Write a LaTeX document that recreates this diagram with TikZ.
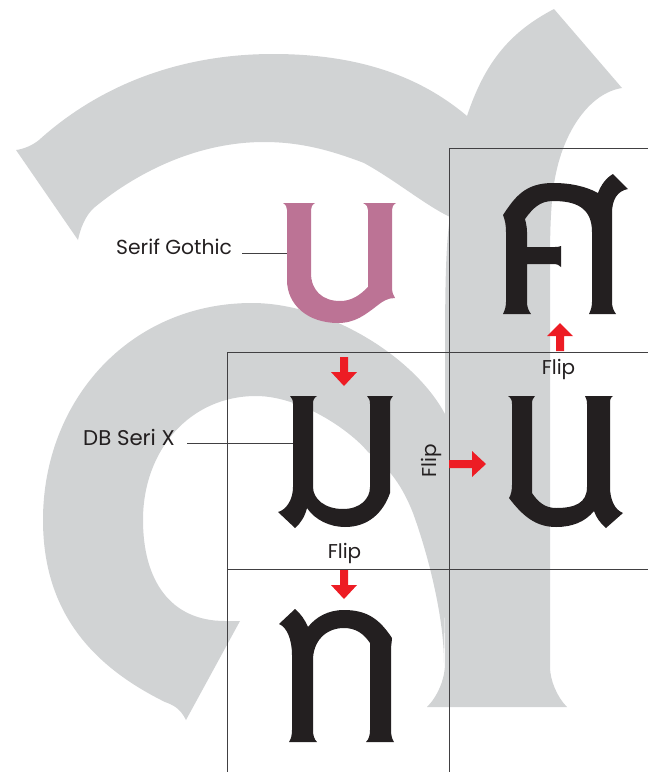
\documentclass[tikz,border=0pt]{standalone}
\usepackage{fontspec}
\setmainfont{Poppins}
\definecolor{ghost}{HTML}{D1D3D4}
\definecolor{ink}{HTML}{231F20}
\definecolor{mauve}{HTML}{BC7395}
\definecolor{flipred}{HTML}{ED1C24}
\definecolor{rule}{HTML}{414042}
\tikzset{
  grid rule/.style={draw=rule,line width=0.95pt},
  leader/.style={draw=rule,line width=0.9pt},
  ghost fill/.style={fill=ghost,draw=none},
  glyph/.style={fill=ink,draw=none},
  flip arrow/.style={fill=flipred,draw=none},
  lab/.style={text=ink,inner sep=0pt,font=\fontsize{20}{24}\selectfont}
}
\begin{document}
\begin{tikzpicture}[x=1pt,y=-1pt]
\useasboundingbox (0,0) rectangle (648,772);
% background ghost letter
\fill[ghost fill] (16,150) .. controls (24,149) and (33,145) .. (39,140)
 .. controls (100,85) and (180,54) .. (273,54)
 .. controls (350,54) and (415,72) .. (467,116)
 .. controls (485,62) and (510,32) .. (554,9) -- (622,88)
 .. controls (590,93) and (565,130) .. (556,173)
 .. controls (550,200) and (550,240) .. (550,267) -- (550,667)
 .. controls (550,680) and (557,697) .. (567,707) -- (427,707)
 .. controls (437,697) and (445,680) .. (445,663) -- (445,383)
 .. controls (445,300) and (445,250) .. (450,217)
 .. controls (425,205) and (395,180) .. (364,163)
 .. controls (330,150) and (300,142) .. (264,142)
 .. controls (200,142) and (140,170) .. (95,207)
 .. controls (85,215) and (80,230) .. (78,240) -- cycle;
\fill[ghost fill] (186,720) .. controls (180,708) and (173,705) .. (165,702)
 .. controls (90,665) and (43,610) .. (43,520)
 .. controls (43,400) and (130,303) .. (252,303)
 .. controls (330,303) and (420,360) .. (448,420) -- (444,663)
 .. controls (444,620) and (430,560) .. (413,513)
 .. controls (400,480) and (385,465) .. (368,452)
 .. controls (350,430) and (300,396) .. (256,396)
 .. controls (190,396) and (143,450) .. (143,520)
 .. controls (143,580) and (170,621) .. (225,621) -- (240,621) -- cycle;
% grid
\draw[grid rule] (648,148) -- (449,148) -- (449,772);
\draw[grid rule] (648,352) -- (227,352) -- (227,772);
\draw[grid rule] (227,569) -- (648,569);
% labels
\node[lab,anchor=west,font=\fontsize{20.3}{24}\selectfont] (sg) at (116,247) {Serif Gothic};
\node[lab,anchor=west,font=\fontsize{21.3}{24}\selectfont] (db) at (83,437.5) {DB Seri X};
\node[lab] (f1) at (558.5,369.5) {Flip};
\node[lab] (f2) at (344.5,553.5) {Flip};
\node[lab,rotate=90] (f3) at (431.5,461) {Flip};
% leaders
\coordinate (sga) at (242,253); \coordinate (sgb) at (288,253);
\coordinate (dba) at (187,443); \coordinate (dbb) at (294,443);
\draw[leader] (sga) -- (sgb);
\draw[leader] (dba) -- (dbb);
% pink U
\fill[fill=mauve] (283,203) -- (315,203) .. controls (312,205) and (311,207) .. (311,210) -- (311,273)
 .. controls (311,290) and (322,301) .. (340,301)
 .. controls (352,301) and (360,295) .. (368,287) -- (368,210)
 .. controls (368,207) and (367,205) .. (363,203) -- (396,203)
 .. controls (393,205) and (392,207) .. (392,210) -- (392,287)
 .. controls (392,292) and (393,295) .. (395,298)
 .. controls (388,298) and (383,301) .. (378,305)
 .. controls (365,315) and (355,323) .. (338,323)
 .. controls (308,323) and (287,305) .. (287,280) -- (287,210)
 .. controls (287,207) and (286,205) .. (283,203) -- cycle;
% Ko top right
\fill[glyph] (503,314) -- (531,314) .. controls (528,310) and (527,306) .. (527,302) -- (527,264)
 -- (555,264) .. controls (557,264) and (559,265) .. (561,267) -- (561,246)
 .. controls (559,247) and (557,247) .. (555,247) -- (527,247) -- (527,232)
 .. controls (527,227) and (526,223) .. (525,219)
 .. controls (533,208) and (540,201) .. (553,201)
 .. controls (575,201) and (592,207) .. (592,232) -- (592,302)
 .. controls (592,306) and (591,310) .. (589,314) -- (616,314)
 .. controls (613,310) and (612,306) .. (612,302) -- (612,213)
 .. controls (612,200) and (617,191) .. (628,189) -- (613,174)
 .. controls (606,178) and (601,185) .. (598,193)
 .. controls (585,186) and (570,183) .. (553,183)
 .. controls (525,183) and (515,197) .. (503,215)
 .. controls (505,220) and (506,225) .. (506,232) -- (506,302)
 .. controls (506,306) and (505,310) .. (503,314) -- cycle;
% u with left tail
\fill[glyph] (290,396) -- (317,396) .. controls (314,398) and (313,400) .. (313,404) -- (313,487)
 .. controls (313,499) and (325,509) .. (343,509)
 .. controls (360,509) and (370,499) .. (370,487) -- (370,404)
 .. controls (370,400) and (369,398) .. (367,396) -- (393,396)
 .. controls (391,398) and (390,400) .. (390,404) -- (390,493)
 .. controls (383,513) and (368,527) .. (345,527)
 .. controls (330,527) and (315,520) .. (307,508)
 .. controls (305,516) and (301,523) .. (295,528) -- (278,512)
 .. controls (286,510) and (293,500) .. (293,487) -- (293,404)
 .. controls (293,400) and (292,398) .. (290,396) -- cycle;
% u with right tail
\fill[glyph] (508,396) -- (535,396) .. controls (533,398) and (532,400) .. (532,404) -- (532,493)
 .. controls (538,502) and (545,508) .. (556,508)
 .. controls (575,508) and (587,503) .. (587,487) -- (587,404)
 .. controls (587,400) and (586,398) .. (585,396) -- (613,396)
 .. controls (610,398) and (610,400) .. (610,404) -- (610,487)
 .. controls (610,500) and (615,510) .. (623,513) -- (606,528)
 .. controls (600,523) and (596,517) .. (594,511)
 .. controls (585,522) and (572,527) .. (556,527)
 .. controls (535,527) and (522,515) .. (509,498)
 .. controls (511,495) and (512,490) .. (512,485) -- (512,404)
 .. controls (512,400) and (511,398) .. (508,396) -- cycle;
% n with left tail
\fill[glyph] (289,742) -- (317,742) .. controls (314,739) and (313,735) .. (313,730) -- (313,660)
 .. controls (313,642) and (325,628) .. (344,628)
 .. controls (356,628) and (364,634) .. (370,643) -- (370,730)
 .. controls (370,735) and (369,739) .. (366,742) -- (394,742)
 .. controls (392,739) and (391,735) .. (391,730) -- (391,650)
 .. controls (391,645) and (392,641) .. (392,638)
 .. controls (380,620) and (368,610) .. (344,610)
 .. controls (328,610) and (316,617) .. (308,627)
 .. controls (305,620) and (301,614) .. (295,609) -- (279,624)
 .. controls (287,627) and (292,640) .. (292,655) -- (292,730)
 .. controls (292,735) and (291,739) .. (289,742) -- cycle;
% arrows
\fill[flip arrow] (340,357) -- (348,357) -- (348,372) -- (357,372) -- (344,386) -- (331,372) -- (340,372) -- cycle;
\fill[flip arrow] (340,570) -- (348,570) -- (348,585) -- (357,585) -- (344,599) -- (331,585) -- (340,585) -- cycle;
\fill[flip arrow] (556,351) -- (564,351) -- (564,336) -- (573,336) -- (560,323) -- (547,336) -- (556,336) -- cycle;
\fill[flip arrow] (449,460) -- (472,460) -- (472,451) -- (486,464) -- (472,477) -- (472,468) -- (449,468) -- cycle;
\end{tikzpicture}
\end{document}
